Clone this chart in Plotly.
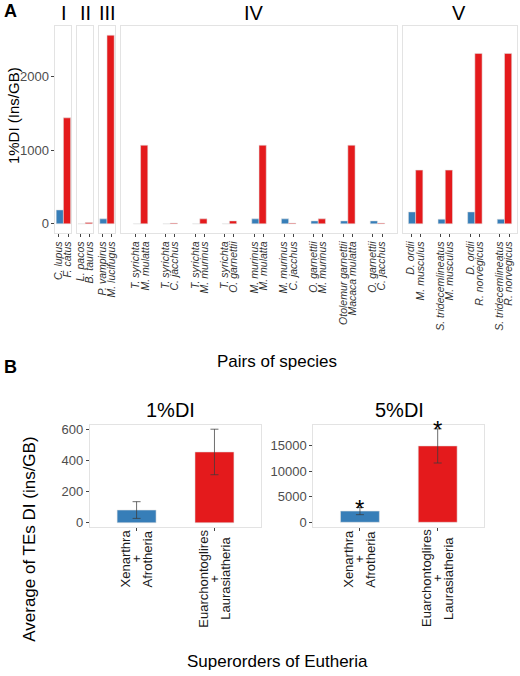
import plotly.graph_objects as go

# ---------------- data (panel A) ----------------
facet_names = ["I", "II", "III", "IV", "V"]
pair_facet = ["I", "II", "III",
              "IV", "IV", "IV", "IV", "IV", "IV", "IV", "IV", "IV",
              "V", "V", "V", "V"]
species_first = ["C. lupus", "L. pacos", "P. vampirus",
                 "T. syrichta", "T. syrichta", "T. syrichta", "T. syrichta",
                 "M. murinus", "M. murinus", "O. garnettii", "Otolemur garnettii", "O. garnettii",
                 "D. ordii", "S. tridecemlineatus", "D. ordii", "S. tridecemlineatus"]
species_second = ["F. catus", "B. taurus", "M. lucifugus",
                  "M. mulatta", "C. jacchus", "M. murinus", "O. garnettii",
                  "M. mulatta", "C. jacchus", "M. murinus", "Macaca mulatta", "C. jacchus",
                  "M. musculus", "M. musculus", "R. norvegicus", "R. norvegicus"]
values_first = [189, 3, 68,
                3, 3, 3, 3,
                68, 68, 40, 40, 40,
                162, 63, 162, 63]
values_second = [1440, 18, 2562,
                 1068, 10, 68, 40,
                 1068, 10, 68, 1068, 10,
                 730, 730, 2315, 2315]

# ---------------- data (panel B) ----------------
super_labels = ["Xenarthra<br>+<br>Afrotheria", "Euarchontoglires<br>+<br>Laurasiatheria"]
di1_values = [82, 457]
di1_errors = [54, 147]
di5_values = [2200, 15000]
di5_errors = [700, 3350]
di5_stars = ["*", "*"]

BLUE = "#377EB8"
RED = "#E41A1C"
BAR_LINE = "rgba(225,225,225,0.55)"
BORDER = "#E3E3E3"
TXT = "#4D4D4D"
FONT = "Liberation Sans, Arial, sans-serif"

W, H = 520, 676


def fx(p):
    return p / W


def fy(p):
    return 1 - p / H


fig = go.Figure()
layout = dict(width=W, height=H, margin=dict(l=0, r=0, t=0, b=0),
              paper_bgcolor="white", plot_bgcolor="white",
              barmode="overlay", showlegend=False,
              font=dict(family=FONT, color="black"))

# ---------------- panel A ----------------
facet_px = {"I": (53, 69), "II": (75, 91), "III": (97, 113), "IV": (119, 398), "V": (404, 519)}
unit_px = 29.9
bar_w = 0.244
label_off = 0.155          # half the spacing of the two label lines of a pair
yA = [fy(233), fy(24)]
yA_range = [-128, 2690]

for k, fname in enumerate(facet_names, start=1):
    idx = [i for i, f in enumerate(pair_facet) if f == fname]
    n = len(idx)
    pos = list(range(n))
    xb = [p - bar_w / 2 for p in pos]
    xr = [p + bar_w / 2 for p in pos]
    xs = "x" if k == 1 else f"x{k}"
    ys = "y" if k == 1 else f"y{k}"
    fig.add_trace(go.Bar(x=xb, y=[values_first[i] for i in idx], width=bar_w,
                         marker=dict(color=BLUE, line=dict(color=BAR_LINE, width=1)),
                         xaxis=xs, yaxis=ys))
    fig.add_trace(go.Bar(x=xr, y=[values_second[i] for i in idx], width=bar_w,
                         marker=dict(color=RED, line=dict(color=BAR_LINE, width=1)),
                         xaxis=xs, yaxis=ys))
    x0, x1 = facet_px[fname]
    c = (n - 1) / 2
    half = (x1 - x0) / (2 * unit_px)
    tv, tt = [], []
    for j, i in enumerate(idx):
        tv += [pos[j] - label_off, pos[j] + label_off]
        tt += [f"<i>{species_first[i]}</i>", f"<i>{species_second[i]}</i>"]
    xkey = "xaxis" if k == 1 else f"xaxis{k}"
    ykey = "yaxis" if k == 1 else f"yaxis{k}"
    layout[xkey] = dict(domain=[fx(x0), fx(x1)], anchor=ys, range=[c - half, c + half],
                        tickmode="array", tickvals=tv, ticktext=tt, tickangle=-90,
                        ticks="outside", ticklen=3, tickcolor="#444", tickwidth=1,
                        tickfont=dict(size=10.5, color="#333333", family=FONT),
                        showline=True, mirror=True, linecolor=BORDER, linewidth=1,
                        showgrid=False, zeroline=False, fixedrange=True)
    ydict = dict(domain=yA, anchor=xs, range=yA_range,
                 showline=True, mirror=True, linecolor=BORDER, linewidth=1,
                 showgrid=False, zeroline=False, fixedrange=True)
    if k == 1:
        ydict.update(tickmode="array", tickvals=[0, 1000, 2000], ticks="outside", ticklen=3,
                     tickcolor="#444", tickfont=dict(size=13, color=TXT, family=FONT))
    else:
        ydict.update(showticklabels=False, ticks="")
    layout[ykey] = ydict

# ---------------- panel B ----------------
yB = [fy(529.3), fy(425.7)]
panelsB = [
    (6, (87.7, 260.7), di1_values, di1_errors, [-30, 634], [0, 200, 400, 600]),
    (7, (313.3, 486), di5_values, di5_errors, [-1000, 19200], [0, 5000, 10000, 15000]),
]
for k, (x0, x1), vals, errs, yr, yt in panelsB:
    fig.add_trace(go.Bar(x=super_labels, y=vals, width=0.5,
                         marker=dict(color=[BLUE, RED], line=dict(color=BAR_LINE, width=1)),
                         error_y=dict(type="data", array=errs, visible=True,
                                      color="rgba(60,60,60,0.75)", thickness=1, width=4),
                         xaxis=f"x{k}", yaxis=f"y{k}"))
    layout[f"xaxis{k}"] = dict(domain=[fx(x0), fx(x1)], anchor=f"y{k}", type="category",
                               range=[-0.6, 1.6], showticklabels=False,
                               ticks="outside", ticklen=3, tickcolor="#444",
                               showline=True, mirror=True, linecolor=BORDER, linewidth=1,
                               showgrid=False, zeroline=False, fixedrange=True)
    layout[f"yaxis{k}"] = dict(domain=yB, anchor=f"x{k}", range=yr,
                               tickmode="array", tickvals=yt, ticktext=[str(v) for v in yt],
                               ticks="outside", ticklen=3,
                               tickcolor="#444", tickfont=dict(size=13, color=TXT, family=FONT),
                               showline=True, mirror=True, linecolor=BORDER, linewidth=1,
                               showgrid=False, zeroline=False, fixedrange=True)

annotations = []


def txt(text, x, y, size, bold=False, angle=0, color="black"):
    annotations.append(dict(text=f"<b>{text}</b>" if bold else text,
                            x=fx(x), y=fy(y), xref="paper", yref="paper",
                            xanchor="center", yanchor="middle", showarrow=False,
                            textangle=angle, font=dict(size=size, color=color, family=FONT)))


txt("A", 8, 9, 18, bold=True)
txt("B", 8, 368, 18, bold=True)
for name, xc in zip(facet_names, [61.5, 83.5, 106, 253.5, 460]):
    txt(name, xc, 11, 20)
txt("1%DI (Ins/GB)", 10, 114, 15, angle=-90)
txt("Pairs of species", 277, 362, 17)
txt("1%DI", 169, 411, 20)
txt("5%DI", 400, 411, 20)
txt("Average of TEs DI (ins/GB)", 27, 541, 17, angle=-90)
txt("Superorders of Eutheria", 277, 664, 17)

# rotated three-line category labels of panel B (lines centred, tight line spacing)
block_centres_px = [561, 580.5]
line_step_px = 11
for k in (6, 7):
    for cat, yc in zip(super_labels, block_centres_px):
        lines = cat.split("<br>")
        for li, line in enumerate(lines):
            annotations.append(dict(text=line, x=cat, y=fy(yc), xref=f"x{k}", yref="paper",
                                    xanchor="center", yanchor="middle", showarrow=False,
                                    textangle=-90, xshift=(li - (len(lines) - 1) / 2) * line_step_px,
                                    font=dict(size=13, color="#1A1A1A", family=FONT)))

for cat, v, e, s in zip(super_labels, di5_values, di5_errors, di5_stars):
    annotations.append(dict(text=s, x=cat, y=v + e, xref="x7", yref="y7",
                            xanchor="center", yanchor="bottom", showarrow=False, yshift=-16,
                            font=dict(size=24, color="black", family=FONT)))

layout["annotations"] = annotations
fig.update_layout(**layout)
fig.write_html("out.html", config={"displayModeBar": False, "staticPlot": True},
               post_script="document.body.style.margin='0';document.body.style.overflow='hidden';")
